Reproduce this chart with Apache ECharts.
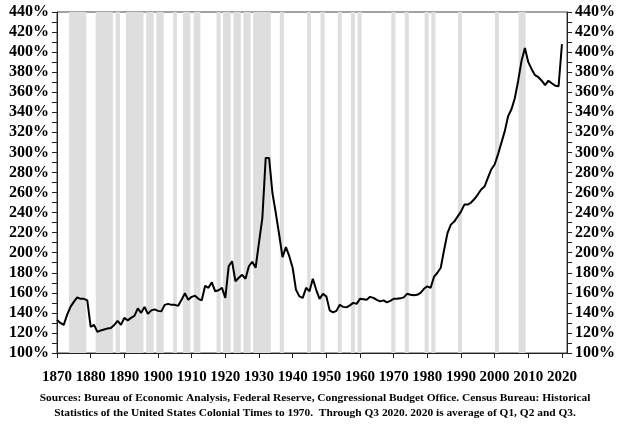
<!DOCTYPE html>
<html>
<head>
<meta charset="utf-8">
<script src="https://cdn.jsdelivr.net/npm/echarts@6/dist/echarts.min.js"></script>
<style>
  html, body { margin: 0; padding: 0; background: #fff; }
  #debtChart { width: 630px; height: 429px; }
</style>
</head>
<body>
<div id="debtChart"></div>
<script>
// annual values, 1870 .. 2020 (percent of GDP)
var years = [];
for (var y = 1870; y <= 2020; y++) years.push(y);

var debtRatio = [
    133, 130, 128, 138, 146, 151, 155.5, 154, 154, 152.5,   // 1870s
    126, 128, 121, 122.5, 123.5, 124.5, 125, 128, 132, 128, // 1880s
    135, 132.5, 135, 137, 144.5, 140, 146, 139, 142.5, 143.5, // 1890s
    142, 141.5, 148, 149, 148, 148, 147, 153, 159.5, 153,   // 1900s
    156, 157, 154, 152.5, 167, 165, 170.5, 161.5, 162.5, 165, // 1910s
    155, 186.5, 191.5, 171.5, 175, 178, 174, 186.5, 191, 185, // 1920s
    210, 234.5, 294.5, 294.5, 259.5, 239.5, 218, 195.5, 205.5, 196.5, // 1930s
    185, 163, 156.5, 155, 165, 161.5, 174, 163, 154, 159,   // 1940s
    156.5, 142.5, 140.5, 142, 148, 146, 145.5, 147.5, 150, 149, // 1950s
    154, 153.5, 153, 156, 155, 153, 151.5, 152.5, 150.5, 152, // 1960s
    154, 154, 154.5, 155.5, 159, 158, 157.5, 158, 160, 164, // 1970s
    166.5, 165, 176, 180, 185, 203, 219.5, 228, 231, 236,   // 1980s
    241, 248, 248, 250, 253.5, 258, 263, 266, 274.5, 283,   // 1990s
    288, 298, 309.5, 321, 336, 343, 354, 371.5, 391.5, 404, // 2000s
    390, 383, 377, 375, 371.5, 367, 371.5, 369, 366.5, 366, // 2010s
    408                                                      // 2020
];

// shaded recession periods [start, end]
var recessions = [
    [1873.6, 1878.7], [1881.5, 1886.6], [1887.4, 1888.7], [1890.5, 1895.7],
    [1896.5, 1898.7], [1899.5, 1901.7], [1904.5, 1905.6], [1907.4, 1909.6],
    [1910.6, 1912.6], [1917.4, 1918.6], [1919.3, 1921.6], [1922.4, 1924.6],
    [1925.4, 1927.5], [1928.3, 1933.5], [1936.2, 1937.4], [1944.3, 1945.4],
    [1948.3, 1949.5], [1953.4, 1954.6], [1957.3, 1958.5], [1959.3, 1960.5],
    [1969.3, 1970.5], [1973.3, 1974.5], [1979.2, 1980.4], [1981.2, 1982.4],
    [1989.1, 1990.3], [2000.1, 2001.3], [2007.1, 2009.2]
];

var yearTicks = [1870, 1880, 1890, 1900, 1910, 1920, 1930, 1940, 1950, 1960,
    1970, 1980, 1990, 2000, 2010, 2020];

var sourceLines = [
    "Sources: Bureau of Economic Analysis, Federal Reserve, Congressional Budget Office. Census Bureau: Historical",
    "Statistics of the United States Colonial Times to 1970.  Through Q3 2020. 2020 is average of Q1, Q2 and Q3."
];

var font = "'Liberation Serif', 'Times New Roman', serif";

var chart = echarts.init(document.getElementById("debtChart"));

var yAxisBase = function(pos) {
    return {
        type: "value",
        position: pos,
        min: 100,
        max: 440,
        interval: 20,
        axisLine: { show: true, lineStyle: { color: "#222", width: 1 } },
        axisTick: { show: true, length: 5, lineStyle: { color: "#222" } },
        minorTick: { show: true, splitNumber: 2, length: 5, lineStyle: { color: "#222" } },
        splitLine: { show: false },
        axisLabel: {
            formatter: "{value}%",
            margin: 8,
            color: "#000",
            fontFamily: font,
            fontWeight: "bold",
            fontSize: 16
        }
    };
};

var option = {
    animation: false,
    graphic: sourceLines.map(function(line, i) {
        return {
            type: "text",
            x: 315,
            y: 398 + i * 15,
            style: {
                text: line,
                textAlign: "center",
                textVerticalAlign: "middle",
                font: "bold 11.4px " + font,
                fill: "#000"
            }
        };
    }),
    grid: {
        left: 57,
        right: 63,
        top: 12,
        bottom: 76,
        show: true,
        borderColor: "#444",
        borderWidth: 1
    },
    xAxis: {
        type: "value",
        min: 1870,
        max: 2021.5,
        axisLine: { show: true, onZero: false, lineStyle: { color: "#222" } },
        axisTick: { show: true, length: 5, customValues: yearTicks, lineStyle: { color: "#222" } },
        splitLine: { show: false },
        axisLabel: {
            customValues: yearTicks,
            formatter: function(v) { return String(v); },
            margin: 17,
            color: "#000",
            fontFamily: font,
            fontWeight: "bold",
            fontSize: 15
        }
    },
    yAxis: [yAxisBase("left"), yAxisBase("right")],
    series: [{
        type: "line",
        data: years.map(function(yr, i) { return [yr, debtRatio[i]]; }),
        showSymbol: false,
        lineStyle: { color: "#000", width: 2 },
        z: 5,
        markArea: {
            silent: true,
            itemStyle: { color: "#dedede" },
            data: recessions.map(function(r) {
                return [{ xAxis: r[0] }, { xAxis: r[1] }];
            })
        }
    }]
};

chart.setOption(option);
</script>
</body>
</html>
